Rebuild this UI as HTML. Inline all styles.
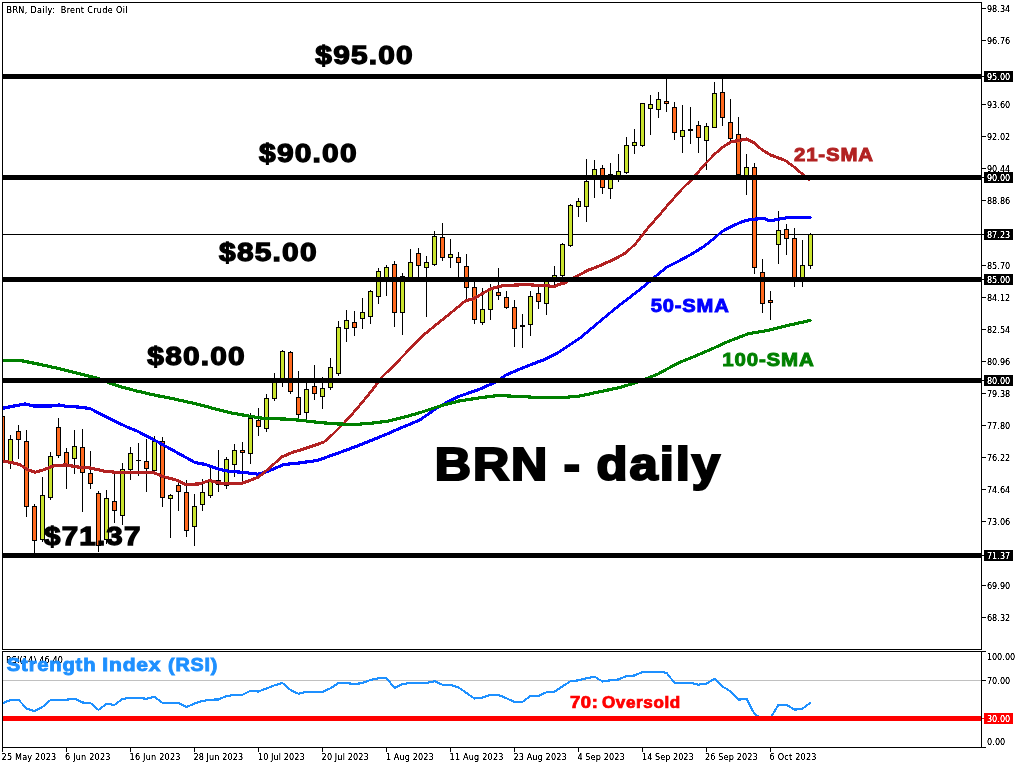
<!DOCTYPE html>
<html lang="en"><head><meta charset="utf-8"><title>BRN Daily - Brent Crude Oil</title>
<style>html,body{margin:0;padding:0;background:#fff;}body{width:1024px;height:768px;overflow:hidden;}svg{display:block;}text{font-family:"Liberation Sans",sans-serif;}.ax{font-family:"DejaVu Sans Condensed","Liberation Sans",sans-serif;font-size:9px;fill:#000;}.axw{font-family:"DejaVu Sans Condensed","Liberation Sans",sans-serif;font-size:9px;fill:#fff;}.big{font-weight:bold;stroke-linejoin:miter;}</style></head><body>
<svg width="1024" height="768" viewBox="0 0 1024 768">
<rect width="1024" height="768" fill="#fff"/>
<defs><filter id="crisp" x="0" y="0" width="1024" height="768" filterUnits="userSpaceOnUse" color-interpolation-filters="sRGB"><feComponentTransfer><feFuncA type="linear" slope="2" intercept="-0.3"/></feComponentTransfer></filter><clipPath id="cp"><rect x="2" y="2" width="980" height="648"/></clipPath><clipPath id="cr"><rect x="2" y="651" width="980" height="97"/></clipPath></defs>
<g shape-rendering="crispEdges"><rect x="2" y="234" width="980" height="1" fill="#000"/></g>
<g shape-rendering="crispEdges" clip-path="url(#cp)">
<rect x="2" y="415" width="1" height="47" fill="#000"/>
<rect x="0" y="416" width="5" height="46" fill="#000"/>
<rect x="1" y="417" width="3" height="44" fill="#FF691E"/>
<rect x="10" y="435" width="1" height="34" fill="#000"/>
<rect x="8" y="439" width="5" height="23" fill="#000"/>
<rect x="9" y="440" width="3" height="21" fill="#C9E42E"/>
<rect x="18" y="425" width="1" height="34" fill="#000"/>
<rect x="16" y="431" width="5" height="9" fill="#000"/>
<rect x="17" y="432" width="3" height="7" fill="#FF691E"/>
<rect x="26" y="430" width="1" height="87" fill="#000"/>
<rect x="24" y="441" width="5" height="66" fill="#000"/>
<rect x="25" y="442" width="3" height="64" fill="#FF691E"/>
<rect x="34" y="504" width="1" height="49" fill="#000"/>
<rect x="32" y="506" width="5" height="35" fill="#000"/>
<rect x="33" y="507" width="3" height="33" fill="#FF691E"/>
<rect x="42" y="477" width="1" height="65" fill="#000"/>
<rect x="40" y="495" width="5" height="45" fill="#000"/>
<rect x="41" y="496" width="3" height="43" fill="#C9E42E"/>
<rect x="50" y="452" width="1" height="48" fill="#000"/>
<rect x="48" y="456" width="5" height="42" fill="#000"/>
<rect x="49" y="457" width="3" height="40" fill="#C9E42E"/>
<rect x="58" y="418" width="1" height="40" fill="#000"/>
<rect x="56" y="427" width="5" height="29" fill="#000"/>
<rect x="57" y="428" width="3" height="27" fill="#FF691E"/>
<rect x="66" y="448" width="1" height="41" fill="#000"/>
<rect x="64" y="452" width="5" height="13" fill="#000"/>
<rect x="65" y="453" width="3" height="11" fill="#FF691E"/>
<rect x="74" y="430" width="1" height="44" fill="#000"/>
<rect x="72" y="446" width="5" height="13" fill="#000"/>
<rect x="73" y="447" width="3" height="11" fill="#C9E42E"/>
<rect x="82" y="429" width="1" height="83" fill="#000"/>
<rect x="80" y="447" width="5" height="26" fill="#000"/>
<rect x="81" y="448" width="3" height="24" fill="#FF691E"/>
<rect x="90" y="451" width="1" height="38" fill="#000"/>
<rect x="88" y="473" width="5" height="11" fill="#000"/>
<rect x="89" y="474" width="3" height="9" fill="#FF691E"/>
<rect x="98" y="491" width="1" height="61" fill="#000"/>
<rect x="96" y="493" width="5" height="53" fill="#000"/>
<rect x="97" y="494" width="3" height="51" fill="#FF691E"/>
<rect x="106" y="490" width="1" height="54" fill="#000"/>
<rect x="104" y="498" width="5" height="42" fill="#000"/>
<rect x="105" y="499" width="3" height="40" fill="#C9E42E"/>
<rect x="114" y="473" width="1" height="50" fill="#000"/>
<rect x="112" y="501" width="5" height="10" fill="#000"/>
<rect x="113" y="502" width="3" height="8" fill="#FF691E"/>
<rect x="122" y="463" width="1" height="62" fill="#000"/>
<rect x="120" y="469" width="5" height="47" fill="#000"/>
<rect x="121" y="470" width="3" height="45" fill="#C9E42E"/>
<rect x="130" y="447" width="1" height="33" fill="#000"/>
<rect x="128" y="453" width="5" height="17" fill="#000"/>
<rect x="129" y="454" width="3" height="15" fill="#C9E42E"/>
<rect x="138" y="443" width="1" height="33" fill="#000"/>
<rect x="136" y="460" width="5" height="1" fill="#000"/>
<rect x="146" y="439" width="1" height="53" fill="#000"/>
<rect x="144" y="461" width="5" height="8" fill="#000"/>
<rect x="145" y="462" width="3" height="6" fill="#FF691E"/>
<rect x="154" y="436" width="1" height="35" fill="#000"/>
<rect x="152" y="441" width="5" height="30" fill="#000"/>
<rect x="153" y="442" width="3" height="28" fill="#C9E42E"/>
<rect x="162" y="437" width="1" height="70" fill="#000"/>
<rect x="160" y="441" width="5" height="57" fill="#000"/>
<rect x="161" y="442" width="3" height="55" fill="#FF691E"/>
<rect x="170" y="494" width="1" height="44" fill="#000"/>
<rect x="168" y="495" width="5" height="4" fill="#000"/>
<rect x="169" y="496" width="3" height="2" fill="#C9E42E"/>
<rect x="178" y="482" width="1" height="29" fill="#000"/>
<rect x="176" y="485" width="5" height="7" fill="#000"/>
<rect x="177" y="486" width="3" height="5" fill="#FF691E"/>
<rect x="186" y="480" width="1" height="57" fill="#000"/>
<rect x="184" y="492" width="5" height="39" fill="#000"/>
<rect x="185" y="493" width="3" height="37" fill="#FF691E"/>
<rect x="194" y="494" width="1" height="52" fill="#000"/>
<rect x="192" y="506" width="5" height="21" fill="#000"/>
<rect x="193" y="507" width="3" height="19" fill="#C9E42E"/>
<rect x="202" y="479" width="1" height="32" fill="#000"/>
<rect x="200" y="492" width="5" height="13" fill="#000"/>
<rect x="201" y="493" width="3" height="11" fill="#C9E42E"/>
<rect x="210" y="468" width="1" height="30" fill="#000"/>
<rect x="208" y="480" width="5" height="16" fill="#000"/>
<rect x="209" y="481" width="3" height="14" fill="#C9E42E"/>
<rect x="218" y="450" width="1" height="42" fill="#000"/>
<rect x="216" y="480" width="5" height="5" fill="#000"/>
<rect x="217" y="481" width="3" height="3" fill="#FF691E"/>
<rect x="226" y="457" width="1" height="32" fill="#000"/>
<rect x="224" y="459" width="5" height="27" fill="#000"/>
<rect x="225" y="460" width="3" height="25" fill="#C9E42E"/>
<rect x="234" y="444" width="1" height="33" fill="#000"/>
<rect x="232" y="450" width="5" height="15" fill="#000"/>
<rect x="233" y="451" width="3" height="13" fill="#C9E42E"/>
<rect x="242" y="442" width="1" height="40" fill="#000"/>
<rect x="240" y="450" width="5" height="3" fill="#000"/>
<rect x="241" y="451" width="3" height="1" fill="#FF691E"/>
<rect x="250" y="413" width="1" height="51" fill="#000"/>
<rect x="248" y="418" width="5" height="36" fill="#000"/>
<rect x="249" y="419" width="3" height="34" fill="#C9E42E"/>
<rect x="258" y="408" width="1" height="28" fill="#000"/>
<rect x="256" y="420" width="5" height="7" fill="#000"/>
<rect x="257" y="421" width="3" height="5" fill="#FF691E"/>
<rect x="266" y="394" width="1" height="38" fill="#000"/>
<rect x="264" y="398" width="5" height="31" fill="#000"/>
<rect x="265" y="399" width="3" height="29" fill="#C9E42E"/>
<rect x="274" y="373" width="1" height="28" fill="#000"/>
<rect x="272" y="382" width="5" height="17" fill="#000"/>
<rect x="273" y="383" width="3" height="15" fill="#C9E42E"/>
<rect x="282" y="350" width="1" height="37" fill="#000"/>
<rect x="280" y="351" width="5" height="31" fill="#000"/>
<rect x="281" y="352" width="3" height="29" fill="#C9E42E"/>
<rect x="290" y="351" width="1" height="43" fill="#000"/>
<rect x="288" y="352" width="5" height="40" fill="#000"/>
<rect x="289" y="353" width="3" height="38" fill="#FF691E"/>
<rect x="298" y="371" width="1" height="47" fill="#000"/>
<rect x="296" y="397" width="5" height="18" fill="#000"/>
<rect x="297" y="398" width="3" height="16" fill="#FF691E"/>
<rect x="306" y="383" width="1" height="36" fill="#000"/>
<rect x="304" y="389" width="5" height="24" fill="#000"/>
<rect x="305" y="390" width="3" height="22" fill="#C9E42E"/>
<rect x="314" y="365" width="1" height="35" fill="#000"/>
<rect x="312" y="386" width="5" height="8" fill="#000"/>
<rect x="313" y="387" width="3" height="6" fill="#FF691E"/>
<rect x="322" y="377" width="1" height="32" fill="#000"/>
<rect x="320" y="388" width="5" height="9" fill="#000"/>
<rect x="321" y="389" width="3" height="7" fill="#C9E42E"/>
<rect x="330" y="358" width="1" height="32" fill="#000"/>
<rect x="328" y="367" width="5" height="21" fill="#000"/>
<rect x="329" y="368" width="3" height="19" fill="#C9E42E"/>
<rect x="338" y="321" width="1" height="55" fill="#000"/>
<rect x="336" y="327" width="5" height="47" fill="#000"/>
<rect x="337" y="328" width="3" height="45" fill="#C9E42E"/>
<rect x="346" y="310" width="1" height="32" fill="#000"/>
<rect x="344" y="320" width="5" height="9" fill="#000"/>
<rect x="345" y="321" width="3" height="7" fill="#C9E42E"/>
<rect x="354" y="311" width="1" height="25" fill="#000"/>
<rect x="352" y="322" width="5" height="6" fill="#000"/>
<rect x="353" y="323" width="3" height="4" fill="#FF691E"/>
<rect x="362" y="298" width="1" height="31" fill="#000"/>
<rect x="360" y="312" width="5" height="7" fill="#000"/>
<rect x="361" y="313" width="3" height="5" fill="#C9E42E"/>
<rect x="370" y="290" width="1" height="34" fill="#000"/>
<rect x="368" y="291" width="5" height="26" fill="#000"/>
<rect x="369" y="292" width="3" height="24" fill="#C9E42E"/>
<rect x="378" y="268" width="1" height="36" fill="#000"/>
<rect x="376" y="271" width="5" height="26" fill="#000"/>
<rect x="377" y="272" width="3" height="24" fill="#C9E42E"/>
<rect x="386" y="265" width="1" height="31" fill="#000"/>
<rect x="384" y="267" width="5" height="13" fill="#000"/>
<rect x="385" y="268" width="3" height="11" fill="#C9E42E"/>
<rect x="394" y="261" width="1" height="66" fill="#000"/>
<rect x="392" y="264" width="5" height="49" fill="#000"/>
<rect x="393" y="265" width="3" height="47" fill="#FF691E"/>
<rect x="402" y="273" width="1" height="62" fill="#000"/>
<rect x="400" y="276" width="5" height="37" fill="#000"/>
<rect x="401" y="277" width="3" height="35" fill="#C9E42E"/>
<rect x="410" y="249" width="1" height="31" fill="#000"/>
<rect x="408" y="262" width="5" height="17" fill="#000"/>
<rect x="409" y="263" width="3" height="15" fill="#C9E42E"/>
<rect x="418" y="248" width="1" height="32" fill="#000"/>
<rect x="416" y="253" width="5" height="13" fill="#000"/>
<rect x="417" y="254" width="3" height="11" fill="#FF691E"/>
<rect x="426" y="256" width="1" height="61" fill="#000"/>
<rect x="424" y="262" width="5" height="6" fill="#000"/>
<rect x="425" y="263" width="3" height="4" fill="#C9E42E"/>
<rect x="434" y="231" width="1" height="35" fill="#000"/>
<rect x="432" y="236" width="5" height="29" fill="#000"/>
<rect x="433" y="237" width="3" height="27" fill="#C9E42E"/>
<rect x="442" y="223" width="1" height="38" fill="#000"/>
<rect x="440" y="237" width="5" height="21" fill="#000"/>
<rect x="441" y="238" width="3" height="19" fill="#FF691E"/>
<rect x="450" y="239" width="1" height="29" fill="#000"/>
<rect x="448" y="254" width="5" height="4" fill="#000"/>
<rect x="449" y="255" width="3" height="2" fill="#C9E42E"/>
<rect x="458" y="252" width="1" height="28" fill="#000"/>
<rect x="456" y="257" width="5" height="6" fill="#000"/>
<rect x="457" y="258" width="3" height="4" fill="#FF691E"/>
<rect x="466" y="254" width="1" height="46" fill="#000"/>
<rect x="464" y="266" width="5" height="22" fill="#000"/>
<rect x="465" y="267" width="3" height="20" fill="#FF691E"/>
<rect x="474" y="282" width="1" height="42" fill="#000"/>
<rect x="472" y="287" width="5" height="33" fill="#000"/>
<rect x="473" y="288" width="3" height="31" fill="#FF691E"/>
<rect x="482" y="288" width="1" height="37" fill="#000"/>
<rect x="480" y="309" width="5" height="14" fill="#000"/>
<rect x="481" y="310" width="3" height="12" fill="#C9E42E"/>
<rect x="490" y="284" width="1" height="36" fill="#000"/>
<rect x="488" y="289" width="5" height="21" fill="#000"/>
<rect x="489" y="290" width="3" height="19" fill="#C9E42E"/>
<rect x="498" y="268" width="1" height="32" fill="#000"/>
<rect x="496" y="292" width="5" height="4" fill="#000"/>
<rect x="497" y="293" width="3" height="2" fill="#FF691E"/>
<rect x="506" y="291" width="1" height="18" fill="#000"/>
<rect x="504" y="297" width="5" height="11" fill="#000"/>
<rect x="505" y="298" width="3" height="9" fill="#FF691E"/>
<rect x="514" y="300" width="1" height="47" fill="#000"/>
<rect x="512" y="307" width="5" height="22" fill="#000"/>
<rect x="513" y="308" width="3" height="20" fill="#FF691E"/>
<rect x="522" y="314" width="1" height="34" fill="#000"/>
<rect x="520" y="325" width="5" height="2" fill="#000"/>
<rect x="530" y="291" width="1" height="45" fill="#000"/>
<rect x="528" y="296" width="5" height="29" fill="#000"/>
<rect x="529" y="297" width="3" height="27" fill="#C9E42E"/>
<rect x="538" y="287" width="1" height="22" fill="#000"/>
<rect x="536" y="293" width="5" height="9" fill="#000"/>
<rect x="537" y="294" width="3" height="7" fill="#FF691E"/>
<rect x="546" y="278" width="1" height="37" fill="#000"/>
<rect x="544" y="278" width="5" height="26" fill="#000"/>
<rect x="545" y="279" width="3" height="24" fill="#C9E42E"/>
<rect x="554" y="266" width="1" height="22" fill="#000"/>
<rect x="552" y="275" width="5" height="6" fill="#000"/>
<rect x="553" y="276" width="3" height="4" fill="#C9E42E"/>
<rect x="562" y="243" width="1" height="34" fill="#000"/>
<rect x="560" y="244" width="5" height="32" fill="#000"/>
<rect x="561" y="245" width="3" height="30" fill="#C9E42E"/>
<rect x="570" y="204" width="1" height="43" fill="#000"/>
<rect x="568" y="205" width="5" height="41" fill="#000"/>
<rect x="569" y="206" width="3" height="39" fill="#C9E42E"/>
<rect x="578" y="198" width="1" height="19" fill="#000"/>
<rect x="576" y="201" width="5" height="6" fill="#000"/>
<rect x="577" y="202" width="3" height="4" fill="#C9E42E"/>
<rect x="586" y="159" width="1" height="63" fill="#000"/>
<rect x="584" y="181" width="5" height="26" fill="#000"/>
<rect x="585" y="182" width="3" height="24" fill="#C9E42E"/>
<rect x="594" y="160" width="1" height="38" fill="#000"/>
<rect x="592" y="169" width="5" height="11" fill="#000"/>
<rect x="593" y="170" width="3" height="9" fill="#C9E42E"/>
<rect x="602" y="165" width="1" height="29" fill="#000"/>
<rect x="600" y="168" width="5" height="20" fill="#000"/>
<rect x="601" y="169" width="3" height="18" fill="#FF691E"/>
<rect x="610" y="163" width="1" height="36" fill="#000"/>
<rect x="608" y="174" width="5" height="15" fill="#000"/>
<rect x="609" y="175" width="3" height="13" fill="#C9E42E"/>
<rect x="618" y="154" width="1" height="28" fill="#000"/>
<rect x="616" y="171" width="5" height="8" fill="#000"/>
<rect x="617" y="172" width="3" height="6" fill="#C9E42E"/>
<rect x="626" y="137" width="1" height="37" fill="#000"/>
<rect x="624" y="145" width="5" height="28" fill="#000"/>
<rect x="625" y="146" width="3" height="26" fill="#C9E42E"/>
<rect x="634" y="129" width="1" height="25" fill="#000"/>
<rect x="632" y="142" width="5" height="4" fill="#000"/>
<rect x="633" y="143" width="3" height="2" fill="#C9E42E"/>
<rect x="642" y="103" width="1" height="44" fill="#000"/>
<rect x="640" y="103" width="5" height="43" fill="#000"/>
<rect x="641" y="104" width="3" height="41" fill="#C9E42E"/>
<rect x="650" y="95" width="1" height="40" fill="#000"/>
<rect x="648" y="104" width="5" height="5" fill="#000"/>
<rect x="649" y="105" width="3" height="3" fill="#C9E42E"/>
<rect x="658" y="92" width="1" height="26" fill="#000"/>
<rect x="656" y="99" width="5" height="11" fill="#000"/>
<rect x="657" y="100" width="3" height="9" fill="#C9E42E"/>
<rect x="666" y="79" width="1" height="33" fill="#000"/>
<rect x="664" y="101" width="5" height="3" fill="#000"/>
<rect x="665" y="102" width="3" height="1" fill="#FF691E"/>
<rect x="674" y="102" width="1" height="38" fill="#000"/>
<rect x="672" y="107" width="5" height="26" fill="#000"/>
<rect x="673" y="108" width="3" height="24" fill="#FF691E"/>
<rect x="682" y="105" width="1" height="48" fill="#000"/>
<rect x="680" y="130" width="5" height="7" fill="#000"/>
<rect x="681" y="131" width="3" height="5" fill="#C9E42E"/>
<rect x="690" y="107" width="1" height="37" fill="#000"/>
<rect x="688" y="129" width="5" height="2" fill="#000"/>
<rect x="698" y="121" width="1" height="32" fill="#000"/>
<rect x="696" y="125" width="5" height="13" fill="#000"/>
<rect x="697" y="126" width="3" height="11" fill="#FF691E"/>
<rect x="706" y="123" width="1" height="47" fill="#000"/>
<rect x="704" y="126" width="5" height="15" fill="#000"/>
<rect x="705" y="127" width="3" height="13" fill="#C9E42E"/>
<rect x="714" y="82" width="1" height="46" fill="#000"/>
<rect x="712" y="93" width="5" height="35" fill="#000"/>
<rect x="713" y="94" width="3" height="33" fill="#C9E42E"/>
<rect x="722" y="79" width="1" height="47" fill="#000"/>
<rect x="720" y="92" width="5" height="26" fill="#000"/>
<rect x="721" y="93" width="3" height="24" fill="#FF691E"/>
<rect x="730" y="99" width="1" height="42" fill="#000"/>
<rect x="728" y="122" width="5" height="17" fill="#000"/>
<rect x="729" y="123" width="3" height="15" fill="#FF691E"/>
<rect x="738" y="117" width="1" height="59" fill="#000"/>
<rect x="736" y="134" width="5" height="41" fill="#000"/>
<rect x="737" y="135" width="3" height="39" fill="#FF691E"/>
<rect x="746" y="154" width="1" height="41" fill="#000"/>
<rect x="744" y="167" width="5" height="12" fill="#000"/>
<rect x="745" y="168" width="3" height="10" fill="#C9E42E"/>
<rect x="754" y="163" width="1" height="111" fill="#000"/>
<rect x="752" y="167" width="5" height="101" fill="#000"/>
<rect x="753" y="168" width="3" height="99" fill="#FF691E"/>
<rect x="762" y="259" width="1" height="54" fill="#000"/>
<rect x="760" y="272" width="5" height="32" fill="#000"/>
<rect x="761" y="273" width="3" height="30" fill="#FF691E"/>
<rect x="770" y="291" width="1" height="29" fill="#000"/>
<rect x="768" y="300" width="5" height="3" fill="#000"/>
<rect x="769" y="301" width="3" height="1" fill="#FF691E"/>
<rect x="778" y="211" width="1" height="53" fill="#000"/>
<rect x="776" y="230" width="5" height="15" fill="#000"/>
<rect x="777" y="231" width="3" height="13" fill="#C9E42E"/>
<rect x="786" y="224" width="1" height="31" fill="#000"/>
<rect x="784" y="229" width="5" height="10" fill="#000"/>
<rect x="785" y="230" width="3" height="8" fill="#FF691E"/>
<rect x="794" y="228" width="1" height="59" fill="#000"/>
<rect x="792" y="238" width="5" height="42" fill="#000"/>
<rect x="793" y="239" width="3" height="40" fill="#FF691E"/>
<rect x="802" y="240" width="1" height="47" fill="#000"/>
<rect x="800" y="265" width="5" height="15" fill="#000"/>
<rect x="801" y="266" width="3" height="13" fill="#C9E42E"/>
<rect x="810" y="233" width="1" height="36" fill="#000"/>
<rect x="808" y="234" width="5" height="32" fill="#000"/>
<rect x="809" y="235" width="3" height="30" fill="#C9E42E"/>
</g>
<g fill="none" stroke="#0000FF" stroke-width="1.2" stroke-linejoin="round" stroke-linecap="butt" shape-rendering="crispEdges" clip-path="url(#cp)">
<polyline transform="translate(0 0)" points="2.0,408.5 4.0,408.0 14.0,406.0 25.0,404.0 33.0,406.0 51.0,406.0 59.0,405.0 66.0,406.3 78.0,407.0 90.0,408.5 101.5,414.6 112.5,420.0 128.0,427.5 137.0,431.0 156.0,441.0 176.0,452.0 195.0,462.5 205.6,464.5 219.0,469.3 229.0,471.3 243.0,472.3 258.0,474.2 268.0,471.3 284.0,464.5 299.0,463.0 317.0,460.5 336.5,453.7 356.0,446.5 375.5,438.7 389.0,433.2 396.0,430.0 420.0,419.9 439.5,406.2 459.0,396.4 478.6,389.6 494.2,382.8 506.0,375.0 517.7,370.0 529.4,365.2 545.0,359.3 556.7,353.5 568.4,345.7 580.0,338.0 592.0,328.0 603.6,318.3 619.0,305.5 625.7,300.4 635.5,293.0 647.0,283.8 657.0,275.0 666.7,267.2 678.4,261.3 690.0,255.0 702.0,247.7 713.6,238.9 721.4,232.0 729.0,227.6 736.0,224.5 742.5,221.4 750.0,219.6 758.8,218.8 765.0,218.9 768.0,220.2 774.0,220.2 780.0,218.8 790.0,217.4 811.2,217.3"/>
<polyline transform="translate(1 0)" points="2.0,408.5 4.0,408.0 14.0,406.0 25.0,404.0 33.0,406.0 51.0,406.0 59.0,405.0 66.0,406.3 78.0,407.0 90.0,408.5 101.5,414.6 112.5,420.0 128.0,427.5 137.0,431.0 156.0,441.0 176.0,452.0 195.0,462.5 205.6,464.5 219.0,469.3 229.0,471.3 243.0,472.3 258.0,474.2 268.0,471.3 284.0,464.5 299.0,463.0 317.0,460.5 336.5,453.7 356.0,446.5 375.5,438.7 389.0,433.2 396.0,430.0 420.0,419.9 439.5,406.2 459.0,396.4 478.6,389.6 494.2,382.8 506.0,375.0 517.7,370.0 529.4,365.2 545.0,359.3 556.7,353.5 568.4,345.7 580.0,338.0 592.0,328.0 603.6,318.3 619.0,305.5 625.7,300.4 635.5,293.0 647.0,283.8 657.0,275.0 666.7,267.2 678.4,261.3 690.0,255.0 702.0,247.7 713.6,238.9 721.4,232.0 729.0,227.6 736.0,224.5 742.5,221.4 750.0,219.6 758.8,218.8 765.0,218.9 768.0,220.2 774.0,220.2 780.0,218.8 790.0,217.4 811.2,217.3"/>
<polyline transform="translate(-1 0)" points="2.0,408.5 4.0,408.0 14.0,406.0 25.0,404.0 33.0,406.0 51.0,406.0 59.0,405.0 66.0,406.3 78.0,407.0 90.0,408.5 101.5,414.6 112.5,420.0 128.0,427.5 137.0,431.0 156.0,441.0 176.0,452.0 195.0,462.5 205.6,464.5 219.0,469.3 229.0,471.3 243.0,472.3 258.0,474.2 268.0,471.3 284.0,464.5 299.0,463.0 317.0,460.5 336.5,453.7 356.0,446.5 375.5,438.7 389.0,433.2 396.0,430.0 420.0,419.9 439.5,406.2 459.0,396.4 478.6,389.6 494.2,382.8 506.0,375.0 517.7,370.0 529.4,365.2 545.0,359.3 556.7,353.5 568.4,345.7 580.0,338.0 592.0,328.0 603.6,318.3 619.0,305.5 625.7,300.4 635.5,293.0 647.0,283.8 657.0,275.0 666.7,267.2 678.4,261.3 690.0,255.0 702.0,247.7 713.6,238.9 721.4,232.0 729.0,227.6 736.0,224.5 742.5,221.4 750.0,219.6 758.8,218.8 765.0,218.9 768.0,220.2 774.0,220.2 780.0,218.8 790.0,217.4 811.2,217.3"/>
<polyline transform="translate(0 1)" points="2.0,408.5 4.0,408.0 14.0,406.0 25.0,404.0 33.0,406.0 51.0,406.0 59.0,405.0 66.0,406.3 78.0,407.0 90.0,408.5 101.5,414.6 112.5,420.0 128.0,427.5 137.0,431.0 156.0,441.0 176.0,452.0 195.0,462.5 205.6,464.5 219.0,469.3 229.0,471.3 243.0,472.3 258.0,474.2 268.0,471.3 284.0,464.5 299.0,463.0 317.0,460.5 336.5,453.7 356.0,446.5 375.5,438.7 389.0,433.2 396.0,430.0 420.0,419.9 439.5,406.2 459.0,396.4 478.6,389.6 494.2,382.8 506.0,375.0 517.7,370.0 529.4,365.2 545.0,359.3 556.7,353.5 568.4,345.7 580.0,338.0 592.0,328.0 603.6,318.3 619.0,305.5 625.7,300.4 635.5,293.0 647.0,283.8 657.0,275.0 666.7,267.2 678.4,261.3 690.0,255.0 702.0,247.7 713.6,238.9 721.4,232.0 729.0,227.6 736.0,224.5 742.5,221.4 750.0,219.6 758.8,218.8 765.0,218.9 768.0,220.2 774.0,220.2 780.0,218.8 790.0,217.4 811.2,217.3"/>
<polyline transform="translate(0 -1)" points="2.0,408.5 4.0,408.0 14.0,406.0 25.0,404.0 33.0,406.0 51.0,406.0 59.0,405.0 66.0,406.3 78.0,407.0 90.0,408.5 101.5,414.6 112.5,420.0 128.0,427.5 137.0,431.0 156.0,441.0 176.0,452.0 195.0,462.5 205.6,464.5 219.0,469.3 229.0,471.3 243.0,472.3 258.0,474.2 268.0,471.3 284.0,464.5 299.0,463.0 317.0,460.5 336.5,453.7 356.0,446.5 375.5,438.7 389.0,433.2 396.0,430.0 420.0,419.9 439.5,406.2 459.0,396.4 478.6,389.6 494.2,382.8 506.0,375.0 517.7,370.0 529.4,365.2 545.0,359.3 556.7,353.5 568.4,345.7 580.0,338.0 592.0,328.0 603.6,318.3 619.0,305.5 625.7,300.4 635.5,293.0 647.0,283.8 657.0,275.0 666.7,267.2 678.4,261.3 690.0,255.0 702.0,247.7 713.6,238.9 721.4,232.0 729.0,227.6 736.0,224.5 742.5,221.4 750.0,219.6 758.8,218.8 765.0,218.9 768.0,220.2 774.0,220.2 780.0,218.8 790.0,217.4 811.2,217.3"/>
</g>
<g fill="none" stroke="#B22222" stroke-width="1.2" stroke-linejoin="round" stroke-linecap="butt" shape-rendering="crispEdges" clip-path="url(#cp)">
<polyline transform="translate(0 0)" points="2.0,461.0 12.0,462.5 19.5,464.5 27.0,469.3 35.0,472.3 43.0,470.0 55.0,465.4 66.0,465.0 78.0,467.0 90.0,468.0 105.0,471.3 121.0,472.7 137.0,472.7 154.0,472.7 162.0,476.2 176.0,480.0 185.5,484.4 199.0,484.0 209.5,480.5 219.3,483.0 229.0,483.6 240.8,483.6 248.6,481.0 258.4,477.1 268.0,469.3 281.8,457.0 291.6,452.7 307.0,447.9 324.0,442.0 333.9,433.2 343.6,423.4 353.4,412.7 368.2,395.2 382.1,377.0 397.3,362.0 412.2,346.4 424.5,334.2 434.2,326.3 444.0,318.4 453.8,310.5 465.5,300.8 473.3,298.9 481.0,294.4 490.9,288.7 502.6,285.6 526.0,284.6 535.8,285.2 547.5,285.6 553.4,286.7 559.0,284.5 565.0,282.8 575.0,277.0 588.6,270.1 600.0,265.6 614.0,259.4 625.7,252.9 635.5,243.8 647.0,229.1 659.0,215.4 670.6,201.8 682.0,189.0 692.0,179.3 705.5,163.5 715.0,153.8 723.0,146.9 730.9,142.0 738.7,140.5 746.5,139.1 754.3,143.0 762.0,149.8 770.0,154.7 777.7,157.7 785.5,160.6 793.4,166.4 799.0,171.3 810.5,180.5"/>
<polyline transform="translate(1 0)" points="2.0,461.0 12.0,462.5 19.5,464.5 27.0,469.3 35.0,472.3 43.0,470.0 55.0,465.4 66.0,465.0 78.0,467.0 90.0,468.0 105.0,471.3 121.0,472.7 137.0,472.7 154.0,472.7 162.0,476.2 176.0,480.0 185.5,484.4 199.0,484.0 209.5,480.5 219.3,483.0 229.0,483.6 240.8,483.6 248.6,481.0 258.4,477.1 268.0,469.3 281.8,457.0 291.6,452.7 307.0,447.9 324.0,442.0 333.9,433.2 343.6,423.4 353.4,412.7 368.2,395.2 382.1,377.0 397.3,362.0 412.2,346.4 424.5,334.2 434.2,326.3 444.0,318.4 453.8,310.5 465.5,300.8 473.3,298.9 481.0,294.4 490.9,288.7 502.6,285.6 526.0,284.6 535.8,285.2 547.5,285.6 553.4,286.7 559.0,284.5 565.0,282.8 575.0,277.0 588.6,270.1 600.0,265.6 614.0,259.4 625.7,252.9 635.5,243.8 647.0,229.1 659.0,215.4 670.6,201.8 682.0,189.0 692.0,179.3 705.5,163.5 715.0,153.8 723.0,146.9 730.9,142.0 738.7,140.5 746.5,139.1 754.3,143.0 762.0,149.8 770.0,154.7 777.7,157.7 785.5,160.6 793.4,166.4 799.0,171.3 810.5,180.5"/>
<polyline transform="translate(-1 0)" points="2.0,461.0 12.0,462.5 19.5,464.5 27.0,469.3 35.0,472.3 43.0,470.0 55.0,465.4 66.0,465.0 78.0,467.0 90.0,468.0 105.0,471.3 121.0,472.7 137.0,472.7 154.0,472.7 162.0,476.2 176.0,480.0 185.5,484.4 199.0,484.0 209.5,480.5 219.3,483.0 229.0,483.6 240.8,483.6 248.6,481.0 258.4,477.1 268.0,469.3 281.8,457.0 291.6,452.7 307.0,447.9 324.0,442.0 333.9,433.2 343.6,423.4 353.4,412.7 368.2,395.2 382.1,377.0 397.3,362.0 412.2,346.4 424.5,334.2 434.2,326.3 444.0,318.4 453.8,310.5 465.5,300.8 473.3,298.9 481.0,294.4 490.9,288.7 502.6,285.6 526.0,284.6 535.8,285.2 547.5,285.6 553.4,286.7 559.0,284.5 565.0,282.8 575.0,277.0 588.6,270.1 600.0,265.6 614.0,259.4 625.7,252.9 635.5,243.8 647.0,229.1 659.0,215.4 670.6,201.8 682.0,189.0 692.0,179.3 705.5,163.5 715.0,153.8 723.0,146.9 730.9,142.0 738.7,140.5 746.5,139.1 754.3,143.0 762.0,149.8 770.0,154.7 777.7,157.7 785.5,160.6 793.4,166.4 799.0,171.3 810.5,180.5"/>
<polyline transform="translate(0 1)" points="2.0,461.0 12.0,462.5 19.5,464.5 27.0,469.3 35.0,472.3 43.0,470.0 55.0,465.4 66.0,465.0 78.0,467.0 90.0,468.0 105.0,471.3 121.0,472.7 137.0,472.7 154.0,472.7 162.0,476.2 176.0,480.0 185.5,484.4 199.0,484.0 209.5,480.5 219.3,483.0 229.0,483.6 240.8,483.6 248.6,481.0 258.4,477.1 268.0,469.3 281.8,457.0 291.6,452.7 307.0,447.9 324.0,442.0 333.9,433.2 343.6,423.4 353.4,412.7 368.2,395.2 382.1,377.0 397.3,362.0 412.2,346.4 424.5,334.2 434.2,326.3 444.0,318.4 453.8,310.5 465.5,300.8 473.3,298.9 481.0,294.4 490.9,288.7 502.6,285.6 526.0,284.6 535.8,285.2 547.5,285.6 553.4,286.7 559.0,284.5 565.0,282.8 575.0,277.0 588.6,270.1 600.0,265.6 614.0,259.4 625.7,252.9 635.5,243.8 647.0,229.1 659.0,215.4 670.6,201.8 682.0,189.0 692.0,179.3 705.5,163.5 715.0,153.8 723.0,146.9 730.9,142.0 738.7,140.5 746.5,139.1 754.3,143.0 762.0,149.8 770.0,154.7 777.7,157.7 785.5,160.6 793.4,166.4 799.0,171.3 810.5,180.5"/>
<polyline transform="translate(0 -1)" points="2.0,461.0 12.0,462.5 19.5,464.5 27.0,469.3 35.0,472.3 43.0,470.0 55.0,465.4 66.0,465.0 78.0,467.0 90.0,468.0 105.0,471.3 121.0,472.7 137.0,472.7 154.0,472.7 162.0,476.2 176.0,480.0 185.5,484.4 199.0,484.0 209.5,480.5 219.3,483.0 229.0,483.6 240.8,483.6 248.6,481.0 258.4,477.1 268.0,469.3 281.8,457.0 291.6,452.7 307.0,447.9 324.0,442.0 333.9,433.2 343.6,423.4 353.4,412.7 368.2,395.2 382.1,377.0 397.3,362.0 412.2,346.4 424.5,334.2 434.2,326.3 444.0,318.4 453.8,310.5 465.5,300.8 473.3,298.9 481.0,294.4 490.9,288.7 502.6,285.6 526.0,284.6 535.8,285.2 547.5,285.6 553.4,286.7 559.0,284.5 565.0,282.8 575.0,277.0 588.6,270.1 600.0,265.6 614.0,259.4 625.7,252.9 635.5,243.8 647.0,229.1 659.0,215.4 670.6,201.8 682.0,189.0 692.0,179.3 705.5,163.5 715.0,153.8 723.0,146.9 730.9,142.0 738.7,140.5 746.5,139.1 754.3,143.0 762.0,149.8 770.0,154.7 777.7,157.7 785.5,160.6 793.4,166.4 799.0,171.3 810.5,180.5"/>
</g>
<g fill="none" stroke="#008000" stroke-width="1.2" stroke-linejoin="round" stroke-linecap="butt" shape-rendering="crispEdges" clip-path="url(#cp)">
<polyline transform="translate(0 0)" points="2.0,360.3 19.5,360.3 39.0,364.2 58.6,368.5 78.0,373.4 97.6,378.4 117.0,385.7 136.7,391.0 156.0,395.4 175.8,399.3 199.0,404.5 209.5,407.4 229.0,412.5 248.6,416.0 264.0,418.5 284.0,419.0 299.0,420.1 319.0,422.5 338.0,424.0 356.0,424.4 373.6,423.0 389.0,421.0 405.8,416.7 420.0,412.7 439.5,406.2 459.0,401.0 478.6,398.0 498.0,395.5 517.7,396.4 537.0,397.4 564.5,397.4 580.0,396.0 599.5,391.8 619.0,387.7 638.6,381.8 658.0,374.0 677.7,363.2 693.0,357.0 709.5,350.0 729.0,341.1 748.6,333.7 768.0,330.4 787.6,325.5 811.0,320.2"/>
<polyline transform="translate(1 0)" points="2.0,360.3 19.5,360.3 39.0,364.2 58.6,368.5 78.0,373.4 97.6,378.4 117.0,385.7 136.7,391.0 156.0,395.4 175.8,399.3 199.0,404.5 209.5,407.4 229.0,412.5 248.6,416.0 264.0,418.5 284.0,419.0 299.0,420.1 319.0,422.5 338.0,424.0 356.0,424.4 373.6,423.0 389.0,421.0 405.8,416.7 420.0,412.7 439.5,406.2 459.0,401.0 478.6,398.0 498.0,395.5 517.7,396.4 537.0,397.4 564.5,397.4 580.0,396.0 599.5,391.8 619.0,387.7 638.6,381.8 658.0,374.0 677.7,363.2 693.0,357.0 709.5,350.0 729.0,341.1 748.6,333.7 768.0,330.4 787.6,325.5 811.0,320.2"/>
<polyline transform="translate(-1 0)" points="2.0,360.3 19.5,360.3 39.0,364.2 58.6,368.5 78.0,373.4 97.6,378.4 117.0,385.7 136.7,391.0 156.0,395.4 175.8,399.3 199.0,404.5 209.5,407.4 229.0,412.5 248.6,416.0 264.0,418.5 284.0,419.0 299.0,420.1 319.0,422.5 338.0,424.0 356.0,424.4 373.6,423.0 389.0,421.0 405.8,416.7 420.0,412.7 439.5,406.2 459.0,401.0 478.6,398.0 498.0,395.5 517.7,396.4 537.0,397.4 564.5,397.4 580.0,396.0 599.5,391.8 619.0,387.7 638.6,381.8 658.0,374.0 677.7,363.2 693.0,357.0 709.5,350.0 729.0,341.1 748.6,333.7 768.0,330.4 787.6,325.5 811.0,320.2"/>
<polyline transform="translate(0 1)" points="2.0,360.3 19.5,360.3 39.0,364.2 58.6,368.5 78.0,373.4 97.6,378.4 117.0,385.7 136.7,391.0 156.0,395.4 175.8,399.3 199.0,404.5 209.5,407.4 229.0,412.5 248.6,416.0 264.0,418.5 284.0,419.0 299.0,420.1 319.0,422.5 338.0,424.0 356.0,424.4 373.6,423.0 389.0,421.0 405.8,416.7 420.0,412.7 439.5,406.2 459.0,401.0 478.6,398.0 498.0,395.5 517.7,396.4 537.0,397.4 564.5,397.4 580.0,396.0 599.5,391.8 619.0,387.7 638.6,381.8 658.0,374.0 677.7,363.2 693.0,357.0 709.5,350.0 729.0,341.1 748.6,333.7 768.0,330.4 787.6,325.5 811.0,320.2"/>
<polyline transform="translate(0 -1)" points="2.0,360.3 19.5,360.3 39.0,364.2 58.6,368.5 78.0,373.4 97.6,378.4 117.0,385.7 136.7,391.0 156.0,395.4 175.8,399.3 199.0,404.5 209.5,407.4 229.0,412.5 248.6,416.0 264.0,418.5 284.0,419.0 299.0,420.1 319.0,422.5 338.0,424.0 356.0,424.4 373.6,423.0 389.0,421.0 405.8,416.7 420.0,412.7 439.5,406.2 459.0,401.0 478.6,398.0 498.0,395.5 517.7,396.4 537.0,397.4 564.5,397.4 580.0,396.0 599.5,391.8 619.0,387.7 638.6,381.8 658.0,374.0 677.7,363.2 693.0,357.0 709.5,350.0 729.0,341.1 748.6,333.7 768.0,330.4 787.6,325.5 811.0,320.2"/>
</g>
<g shape-rendering="crispEdges"><rect x="2" y="680" width="980" height="1" fill="#C0C0C0"/></g>
<g fill="none" stroke="#1E90FF" stroke-width="1.2" stroke-linejoin="round" stroke-linecap="butt" shape-rendering="crispEdges" clip-path="url(#cr)">
<polyline transform="translate(0 -0.5)" points="2.5,703.3 10.5,700.0 18.5,699.7 26.5,708.5 34.5,711.2 42.5,707.0 50.5,700.0 58.5,699.7 66.5,699.7 74.5,698.7 82.5,702.5 90.5,703.0 98.5,710.0 106.5,703.8 114.5,705.0 122.5,699.0 130.5,697.8 138.5,698.0 146.5,698.7 154.5,696.7 162.5,703.0 170.5,703.0 178.5,703.0 186.5,707.0 194.5,703.5 202.5,701.0 210.5,699.7 218.5,699.5 226.5,696.0 234.5,695.0 242.5,694.7 250.5,690.8 258.5,691.5 266.5,688.5 274.5,685.3 282.5,683.0 290.5,690.0 298.5,693.8 306.5,691.7 314.5,691.7 322.5,691.9 330.5,688.3 338.5,683.0 346.5,683.0 354.5,684.2 362.5,683.0 370.5,680.0 378.5,678.3 386.5,678.0 394.5,688.0 402.5,684.0 410.5,683.0 418.5,683.0 426.5,683.0 434.5,681.2 442.5,684.7 450.5,684.7 458.5,687.5 466.5,693.0 474.5,698.5 482.5,697.5 490.5,695.0 498.5,695.0 506.5,698.3 514.5,702.0 522.5,702.0 530.5,695.8 538.5,695.8 546.5,692.3 554.5,691.7 562.5,686.3 570.5,681.2 578.5,680.3 586.5,678.2 594.5,676.7 602.5,681.5 610.5,680.3 618.5,679.5 626.5,676.0 634.5,675.5 642.5,672.0 650.5,671.7 658.5,671.7 666.5,672.8 674.5,682.8 682.5,682.8 690.5,682.8 698.5,684.7 706.5,683.5 714.5,678.8 722.5,686.5 730.5,691.3 738.5,699.7 746.5,698.8 754.5,714.0 762.5,719.0 770.5,718.0 778.5,704.7 786.5,704.7 794.5,709.7 802.5,708.7 810.5,702.5"/>
<polyline transform="translate(0 0.5)" points="2.5,703.3 10.5,700.0 18.5,699.7 26.5,708.5 34.5,711.2 42.5,707.0 50.5,700.0 58.5,699.7 66.5,699.7 74.5,698.7 82.5,702.5 90.5,703.0 98.5,710.0 106.5,703.8 114.5,705.0 122.5,699.0 130.5,697.8 138.5,698.0 146.5,698.7 154.5,696.7 162.5,703.0 170.5,703.0 178.5,703.0 186.5,707.0 194.5,703.5 202.5,701.0 210.5,699.7 218.5,699.5 226.5,696.0 234.5,695.0 242.5,694.7 250.5,690.8 258.5,691.5 266.5,688.5 274.5,685.3 282.5,683.0 290.5,690.0 298.5,693.8 306.5,691.7 314.5,691.7 322.5,691.9 330.5,688.3 338.5,683.0 346.5,683.0 354.5,684.2 362.5,683.0 370.5,680.0 378.5,678.3 386.5,678.0 394.5,688.0 402.5,684.0 410.5,683.0 418.5,683.0 426.5,683.0 434.5,681.2 442.5,684.7 450.5,684.7 458.5,687.5 466.5,693.0 474.5,698.5 482.5,697.5 490.5,695.0 498.5,695.0 506.5,698.3 514.5,702.0 522.5,702.0 530.5,695.8 538.5,695.8 546.5,692.3 554.5,691.7 562.5,686.3 570.5,681.2 578.5,680.3 586.5,678.2 594.5,676.7 602.5,681.5 610.5,680.3 618.5,679.5 626.5,676.0 634.5,675.5 642.5,672.0 650.5,671.7 658.5,671.7 666.5,672.8 674.5,682.8 682.5,682.8 690.5,682.8 698.5,684.7 706.5,683.5 714.5,678.8 722.5,686.5 730.5,691.3 738.5,699.7 746.5,698.8 754.5,714.0 762.5,719.0 770.5,718.0 778.5,704.7 786.5,704.7 794.5,709.7 802.5,708.7 810.5,702.5"/>
<polyline transform="translate(-0.5 0)" points="2.5,703.3 10.5,700.0 18.5,699.7 26.5,708.5 34.5,711.2 42.5,707.0 50.5,700.0 58.5,699.7 66.5,699.7 74.5,698.7 82.5,702.5 90.5,703.0 98.5,710.0 106.5,703.8 114.5,705.0 122.5,699.0 130.5,697.8 138.5,698.0 146.5,698.7 154.5,696.7 162.5,703.0 170.5,703.0 178.5,703.0 186.5,707.0 194.5,703.5 202.5,701.0 210.5,699.7 218.5,699.5 226.5,696.0 234.5,695.0 242.5,694.7 250.5,690.8 258.5,691.5 266.5,688.5 274.5,685.3 282.5,683.0 290.5,690.0 298.5,693.8 306.5,691.7 314.5,691.7 322.5,691.9 330.5,688.3 338.5,683.0 346.5,683.0 354.5,684.2 362.5,683.0 370.5,680.0 378.5,678.3 386.5,678.0 394.5,688.0 402.5,684.0 410.5,683.0 418.5,683.0 426.5,683.0 434.5,681.2 442.5,684.7 450.5,684.7 458.5,687.5 466.5,693.0 474.5,698.5 482.5,697.5 490.5,695.0 498.5,695.0 506.5,698.3 514.5,702.0 522.5,702.0 530.5,695.8 538.5,695.8 546.5,692.3 554.5,691.7 562.5,686.3 570.5,681.2 578.5,680.3 586.5,678.2 594.5,676.7 602.5,681.5 610.5,680.3 618.5,679.5 626.5,676.0 634.5,675.5 642.5,672.0 650.5,671.7 658.5,671.7 666.5,672.8 674.5,682.8 682.5,682.8 690.5,682.8 698.5,684.7 706.5,683.5 714.5,678.8 722.5,686.5 730.5,691.3 738.5,699.7 746.5,698.8 754.5,714.0 762.5,719.0 770.5,718.0 778.5,704.7 786.5,704.7 794.5,709.7 802.5,708.7 810.5,702.5"/>
<polyline transform="translate(0.5 0)" points="2.5,703.3 10.5,700.0 18.5,699.7 26.5,708.5 34.5,711.2 42.5,707.0 50.5,700.0 58.5,699.7 66.5,699.7 74.5,698.7 82.5,702.5 90.5,703.0 98.5,710.0 106.5,703.8 114.5,705.0 122.5,699.0 130.5,697.8 138.5,698.0 146.5,698.7 154.5,696.7 162.5,703.0 170.5,703.0 178.5,703.0 186.5,707.0 194.5,703.5 202.5,701.0 210.5,699.7 218.5,699.5 226.5,696.0 234.5,695.0 242.5,694.7 250.5,690.8 258.5,691.5 266.5,688.5 274.5,685.3 282.5,683.0 290.5,690.0 298.5,693.8 306.5,691.7 314.5,691.7 322.5,691.9 330.5,688.3 338.5,683.0 346.5,683.0 354.5,684.2 362.5,683.0 370.5,680.0 378.5,678.3 386.5,678.0 394.5,688.0 402.5,684.0 410.5,683.0 418.5,683.0 426.5,683.0 434.5,681.2 442.5,684.7 450.5,684.7 458.5,687.5 466.5,693.0 474.5,698.5 482.5,697.5 490.5,695.0 498.5,695.0 506.5,698.3 514.5,702.0 522.5,702.0 530.5,695.8 538.5,695.8 546.5,692.3 554.5,691.7 562.5,686.3 570.5,681.2 578.5,680.3 586.5,678.2 594.5,676.7 602.5,681.5 610.5,680.3 618.5,679.5 626.5,676.0 634.5,675.5 642.5,672.0 650.5,671.7 658.5,671.7 666.5,672.8 674.5,682.8 682.5,682.8 690.5,682.8 698.5,684.7 706.5,683.5 714.5,678.8 722.5,686.5 730.5,691.3 738.5,699.7 746.5,698.8 754.5,714.0 762.5,719.0 770.5,718.0 778.5,704.7 786.5,704.7 794.5,709.7 802.5,708.7 810.5,702.5"/>
</g>
<g shape-rendering="crispEdges">
<rect x="2" y="74" width="980" height="5" fill="#000"/>
<rect x="2" y="175" width="980" height="5" fill="#000"/>
<rect x="2" y="277" width="980" height="5" fill="#000"/>
<rect x="2" y="378" width="980" height="5" fill="#000"/>
<rect x="2" y="553" width="980" height="5" fill="#000"/>
<rect x="2" y="716" width="980" height="5" fill="#FF0000"/>
<rect x="2" y="2" width="980" height="1" fill="#000"/>
<rect x="2" y="2" width="1" height="648" fill="#000"/>
<rect x="2" y="651" width="1" height="97" fill="#000"/>
<rect x="981" y="2" width="1" height="648" fill="#000"/>
<rect x="981" y="651" width="1" height="97" fill="#000"/>
<rect x="2" y="649" width="980" height="1" fill="#000"/>
<rect x="2" y="651" width="980" height="1" fill="#000"/>
<rect x="2" y="747" width="980" height="1" fill="#000"/>
<rect x="982" y="8" width="4" height="1" fill="#000"/>
<rect x="982" y="40" width="4" height="1" fill="#000"/>
<rect x="982" y="104" width="4" height="1" fill="#000"/>
<rect x="982" y="136" width="4" height="1" fill="#000"/>
<rect x="982" y="168" width="4" height="1" fill="#000"/>
<rect x="982" y="200" width="4" height="1" fill="#000"/>
<rect x="982" y="265" width="4" height="1" fill="#000"/>
<rect x="982" y="297" width="4" height="1" fill="#000"/>
<rect x="982" y="329" width="4" height="1" fill="#000"/>
<rect x="982" y="361" width="4" height="1" fill="#000"/>
<rect x="982" y="393" width="4" height="1" fill="#000"/>
<rect x="982" y="425" width="4" height="1" fill="#000"/>
<rect x="982" y="457" width="4" height="1" fill="#000"/>
<rect x="982" y="489" width="4" height="1" fill="#000"/>
<rect x="982" y="521" width="4" height="1" fill="#000"/>
<rect x="982" y="585" width="4" height="1" fill="#000"/>
<rect x="982" y="617" width="4" height="1" fill="#000"/>
<rect x="982" y="651" width="4" height="1" fill="#000"/>
<rect x="982" y="680" width="4" height="1" fill="#000"/>
<rect x="982" y="747" width="4" height="1" fill="#000"/>
<rect x="2" y="748" width="1" height="4" fill="#000"/>
<rect x="66" y="748" width="1" height="4" fill="#000"/>
<rect x="130" y="748" width="1" height="4" fill="#000"/>
<rect x="194" y="748" width="1" height="4" fill="#000"/>
<rect x="258" y="748" width="1" height="4" fill="#000"/>
<rect x="322" y="748" width="1" height="4" fill="#000"/>
<rect x="386" y="748" width="1" height="4" fill="#000"/>
<rect x="450" y="748" width="1" height="4" fill="#000"/>
<rect x="514" y="748" width="1" height="4" fill="#000"/>
<rect x="578" y="748" width="1" height="4" fill="#000"/>
<rect x="642" y="748" width="1" height="4" fill="#000"/>
<rect x="706" y="748" width="1" height="4" fill="#000"/>
<rect x="770" y="748" width="1" height="4" fill="#000"/>
<rect x="982" y="76" width="3" height="1" fill="#000"/>
<rect x="984" y="71" width="29" height="11" fill="#000"/>
<rect x="982" y="177" width="3" height="1" fill="#000"/>
<rect x="984" y="172" width="29" height="11" fill="#000"/>
<rect x="982" y="234" width="3" height="1" fill="#000"/>
<rect x="984" y="229" width="29" height="11" fill="#000"/>
<rect x="982" y="279" width="3" height="1" fill="#000"/>
<rect x="984" y="274" width="29" height="11" fill="#000"/>
<rect x="982" y="380" width="3" height="1" fill="#000"/>
<rect x="984" y="375" width="29" height="11" fill="#000"/>
<rect x="982" y="555" width="3" height="1" fill="#000"/>
<rect x="984" y="550" width="29" height="11" fill="#000"/>
<rect x="982" y="718" width="3" height="1" fill="#FF0000"/>
<rect x="984" y="713" width="29" height="11" fill="#FF0000"/>
</g>
<g filter="url(#crisp)">
<text class="ax" x="987 992 997 1000 1005" y="12">98.34</text>
<text class="ax" x="987 992 997 1000 1005" y="44">96.76</text>
<text class="ax" x="987 992 997 1000 1005" y="108">93.60</text>
<text class="ax" x="987 992 997 1000 1005" y="140">92.02</text>
<text class="ax" x="987 992 997 1000 1005" y="172">90.44</text>
<text class="ax" x="987 992 997 1000 1005" y="204">88.86</text>
<text class="ax" x="987 992 997 1000 1005" y="269">85.70</text>
<text class="ax" x="987 992 997 1000 1005" y="301">84.12</text>
<text class="ax" x="987 992 997 1000 1005" y="333">82.54</text>
<text class="ax" x="987 992 997 1000 1005" y="365">80.96</text>
<text class="ax" x="987 992 997 1000 1005" y="397">79.38</text>
<text class="ax" x="987 992 997 1000 1005" y="429">77.80</text>
<text class="ax" x="987 992 997 1000 1005" y="461">76.22</text>
<text class="ax" x="987 992 997 1000 1005" y="493">74.64</text>
<text class="ax" x="987 992 997 1000 1005" y="525">73.06</text>
<text class="ax" x="987 992 997 1000 1005" y="589">69.90</text>
<text class="ax" x="987 992 997 1000 1005" y="621">68.32</text>
<text class="axw" x="987 992 997 1000 1005" y="80">95.00</text>
<text class="axw" x="987 992 997 1000 1005" y="181">90.00</text>
<text class="axw" x="987 992 997 1000 1005" y="238">87.23</text>
<text class="axw" x="987 992 997 1000 1005" y="283">85.00</text>
<text class="axw" x="987 992 997 1000 1005" y="384">80.00</text>
<text class="axw" x="987 992 997 1000 1005" y="559">71.37</text>
<text class="axw" x="987 992 997 1000 1005" y="722">30.00</text>
<text class="ax" x="987 992 997 1002 1005 1010" y="660">100.00</text>
<text class="ax" x="987 992 997 1000 1005" y="684">70.00</text>
<text class="ax" x="987 992 995 1000" y="745">0.00</text>
<text class="ax" x="1.6" y="760" textLength="54.6" lengthAdjust="spacing">25 May 2023</text>
<text class="ax" x="65.1" y="760" textLength="45.3" lengthAdjust="spacing">6 Jun 2023</text>
<text class="ax" x="129.6" y="760" textLength="50.8" lengthAdjust="spacing">16 Jun 2023</text>
<text class="ax" x="193.4" y="760" textLength="49.8" lengthAdjust="spacing">28 Jun 2023</text>
<text class="ax" x="257.9" y="760" textLength="46.7" lengthAdjust="spacing">10 Jul 2023</text>
<text class="ax" x="321.6" y="760" textLength="47.1" lengthAdjust="spacing">20 Jul 2023</text>
<text class="ax" x="385.9" y="760" textLength="47.8" lengthAdjust="spacing">1 Aug 2023</text>
<text class="ax" x="449.6" y="760" textLength="53.8" lengthAdjust="spacing">11 Aug 2023</text>
<text class="ax" x="513.4" y="760" textLength="53.2" lengthAdjust="spacing">23 Aug 2023</text>
<text class="ax" x="577.4" y="760" textLength="47.2" lengthAdjust="spacing">4 Sep 2023</text>
<text class="ax" x="642.1" y="760" textLength="51.6" lengthAdjust="spacing">14 Sep 2023</text>
<text class="ax" x="705.1" y="760" textLength="52.5" lengthAdjust="spacing">26 Sep 2023</text>
<text class="ax" x="769.6" y="760" textLength="46.8" lengthAdjust="spacing">6 Oct 2023</text>
<text class="ax" x="6.5" y="13" textLength="121" lengthAdjust="spacing" xml:space="preserve">BRN, Daily:  Brent Crude Oil</text>
<text class="ax" x="6" y="663.3" textLength="57" lengthAdjust="spacing">RSI(14) 46.40</text>
</g>
<text class="big" y="64" font-size="26.3" fill="#000000" stroke="#000000" stroke-width="1.3" style="letter-spacing:1.04px"><tspan x="315.34" textLength="98.59" lengthAdjust="spacingAndGlyphs">$95.00</tspan></text>
<text class="big" y="162" font-size="26.3" fill="#000000" stroke="#000000" stroke-width="1.3" style="letter-spacing:1.04px"><tspan x="259.12" textLength="98.66" lengthAdjust="spacingAndGlyphs">$90.00</tspan></text>
<text class="big" y="261" font-size="26.3" fill="#000000" stroke="#000000" stroke-width="1.3" style="letter-spacing:1.04px"><tspan x="219.12" textLength="98.66" lengthAdjust="spacingAndGlyphs">$85.00</tspan></text>
<text class="big" y="365" font-size="26.3" fill="#000000" stroke="#000000" stroke-width="1.3" style="letter-spacing:1.04px"><tspan x="147.34" textLength="98.59" lengthAdjust="spacingAndGlyphs">$80.00</tspan></text>
<text class="big" y="545" font-size="26.3" fill="#000000" stroke="#000000" stroke-width="1.3" style="letter-spacing:1.04px"><tspan x="44.09" textLength="97.42" lengthAdjust="spacingAndGlyphs">$71.37</tspan></text>
<text class="big" y="480" font-size="46.1" fill="#000000" stroke="#000000" stroke-width="2.2" style="letter-spacing:1.76px"><tspan x="434.79" textLength="114.53" lengthAdjust="spacingAndGlyphs">BRN</tspan> <tspan x="563.8" textLength="18.05" lengthAdjust="spacingAndGlyphs">-</tspan> <tspan x="596.59" textLength="125.25" lengthAdjust="spacingAndGlyphs">daily</tspan></text>
<text class="big" y="161" font-size="19.0" fill="#B22222" stroke="#B22222" stroke-width="0.92" style="letter-spacing:0.74px"><tspan x="794.04" textLength="79.79" lengthAdjust="spacingAndGlyphs">21-SMA</tspan></text>
<text class="big" y="312" font-size="19.0" fill="#0000FF" stroke="#0000FF" stroke-width="0.92" style="letter-spacing:0.74px"><tspan x="650.75" textLength="78.77" lengthAdjust="spacingAndGlyphs">50-SMA</tspan></text>
<text class="big" y="366" font-size="19.0" fill="#008000" stroke="#008000" stroke-width="0.92" style="letter-spacing:0.74px"><tspan x="722.34" textLength="92.18" lengthAdjust="spacingAndGlyphs">100-SMA</tspan></text>
<text class="big" y="671" font-size="19.0" fill="#1E90FF" stroke="#1E90FF" stroke-width="0.92" style="letter-spacing:0.74px"><tspan x="6.84" textLength="89.46" lengthAdjust="spacingAndGlyphs">Strength</tspan> <tspan x="102.29" textLength="59.12" lengthAdjust="spacingAndGlyphs">Index</tspan> <tspan x="168.06" textLength="49.99" lengthAdjust="spacingAndGlyphs">(RSI)</tspan></text>
<text class="big" y="708" font-size="15.6" fill="#FF0000" stroke="#FF0000" stroke-width="0.74" style="letter-spacing:0.59px"><tspan x="569.9" textLength="28.76" lengthAdjust="spacingAndGlyphs">70:</tspan> <tspan x="601.95" textLength="78.96" lengthAdjust="spacingAndGlyphs">Oversold</tspan></text>
</svg></body></html>
